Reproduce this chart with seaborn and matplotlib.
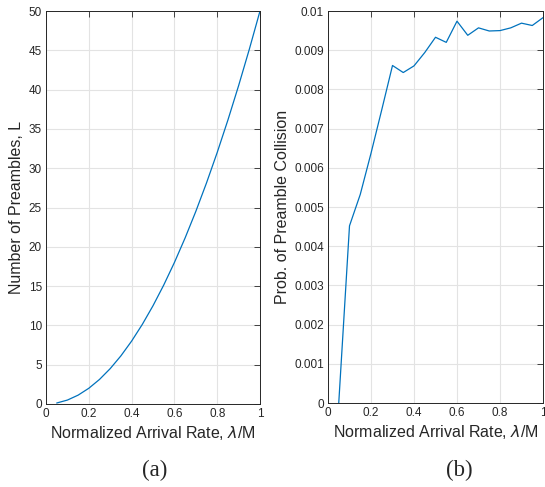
import numpy as np
import pandas as pd
import matplotlib
matplotlib.use("Agg")
import matplotlib.pyplot as plt
import seaborn as sns

# normalized arrival rate lambda/M
rate = [0.05, 0.10, 0.15, 0.20, 0.25, 0.30, 0.35, 0.40, 0.45, 0.50,
        0.55, 0.60, 0.65, 0.70, 0.75, 0.80, 0.85, 0.90, 0.95, 1.00]

# (a) number of preambles
preambles = [0.125, 0.5, 1.125, 2.0, 3.125, 4.5, 6.125, 8.0, 10.125, 12.5,
             15.125, 18.0, 21.125, 24.5, 28.125, 32.0, 36.125, 40.5, 45.125, 50.0]

# (b) probability of preamble collision
collision = [0.0, 0.00452, 0.00532, 0.00637, 0.00748, 0.00861, 0.00843, 0.00860,
             0.00894, 0.00933, 0.00920, 0.00974, 0.00938, 0.00957, 0.00949,
             0.00950, 0.00957, 0.00969, 0.00963, 0.00983]

df = pd.DataFrame({"rate": rate, "L": preambles, "Pc": collision})

sns.set_style("whitegrid")
plt.rcParams["font.family"] = ["Liberation Sans", "DejaVu Sans"]

fig = plt.figure(figsize=(5.45, 4.87), dpi=100)
ax1 = fig.add_axes([46 / 545, 1 - 404 / 487, 214 / 545, 393 / 487])
ax2 = fig.add_axes([328 / 545, 1 - 403 / 487, 215 / 545, 392 / 487])

line_color = "#0072BD"
axis_color = "#262626"

sns.lineplot(data=df, x="rate", y="L", ax=ax1, color=line_color, linewidth=0.9)
sns.lineplot(data=df, x="rate", y="Pc", ax=ax2, color=line_color, linewidth=0.9)

ax1.set_ylim(0, 50)
ax1.set_yticks(np.arange(0, 51, 5))
ax1.set_ylabel("Number of Preambles, L", fontsize=11.5, color=axis_color)

ax2.set_ylim(0, 0.01)
ax2.set_yticks(np.arange(0, 0.0101, 0.001))
ax2.set_yticklabels(["0", "0.001", "0.002", "0.003", "0.004", "0.005",
                     "0.006", "0.007", "0.008", "0.009", "0.01"])
ax2.set_ylabel("Prob. of Preamble Collision", fontsize=11.5, color=axis_color)

for ax in (ax1, ax2):
    ax.set_xlim(0, 1)
    ax.set_xticks([0, 0.2, 0.4, 0.6, 0.8, 1])
    ax.set_xticklabels(["0", "0.2", "0.4", "0.6", "0.8", "1"])
    ax.set_xlabel("Normalized Arrival Rate, $\\lambda$/M", fontsize=11.5, color=axis_color)
    ax.grid(True, color="#e3e3e3", linewidth=0.8)
    ax.tick_params(direction="in", length=4, width=0.6, labelsize=8.5,
                   colors=axis_color, top=True, right=True, pad=3)
    for s in ax.spines.values():
        s.set_visible(True)
        s.set_color(axis_color)
        s.set_linewidth(0.7)
    ax.xaxis.labelpad = 3
    ax.yaxis.labelpad = 3

fig.text(155 / 545, 1 - 470 / 487, "(a)", ha="center", va="center",
         fontsize=16.5, family="Liberation Serif")
fig.text(459 / 545, 1 - 470 / 487, "(b)", ha="center", va="center",
         fontsize=16.5, family="Liberation Serif")

fig.savefig("out.png", dpi=100)
